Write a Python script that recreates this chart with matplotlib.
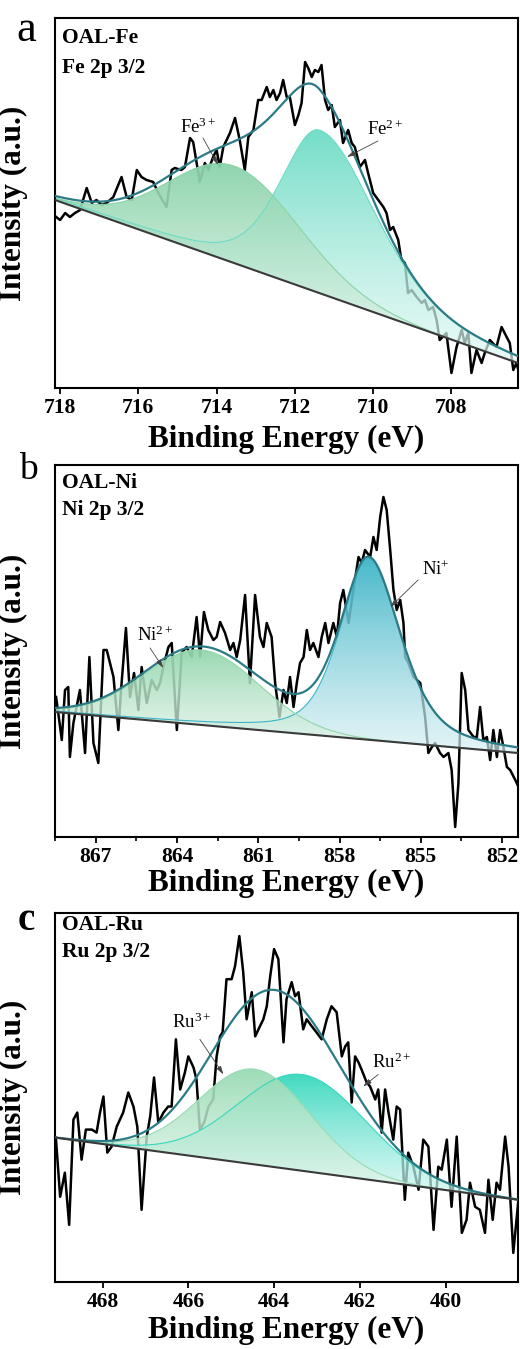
import numpy as np
import matplotlib.pyplot as plt
from matplotlib.colors import to_rgb

plt.rcParams['font.family'] = ['Liberation Serif', 'DejaVu Serif']
plt.rcParams['mathtext.fontset'] = 'custom'
plt.rcParams['mathtext.rm'] = 'Liberation Serif'
plt.rcParams['mathtext.it'] = 'Liberation Serif:italic'
plt.rcParams['mathtext.bf'] = 'Liberation Serif:bold'

# ---------------- panel a : Fe 2p 3/2 ----------------
fe_be = [718.10, 718.00, 717.87, 717.75, 717.62, 717.49, 717.32, 717.19, 717.07, 716.94,
         716.81, 716.64, 716.43, 716.30, 716.17, 716.04, 715.92, 715.79, 715.62, 715.49,
         715.28, 715.15, 715.07, 714.90, 714.81, 714.68, 714.60, 714.43, 714.30, 714.21,
         714.09, 714.00, 713.92, 713.83, 713.66, 713.53, 713.41, 713.28, 713.19, 713.06,
         712.94, 712.85, 712.72, 712.64, 712.55, 712.47, 712.38, 712.30, 712.21, 712.13,
         712.00, 711.91, 711.83, 711.74, 711.66, 711.57, 711.49, 711.40, 711.32, 711.23,
         711.15, 711.06, 710.98, 710.85, 710.77, 710.64, 710.55, 710.47, 710.34, 710.21,
         710.13, 710.00, 709.87, 709.74, 709.66, 709.57, 709.49, 709.36, 709.28, 709.19,
         709.11, 709.02, 708.89, 708.76, 708.68, 708.59, 708.47, 708.38, 708.30, 708.13,
         708.00, 707.87, 707.74, 707.66, 707.57, 707.49, 707.36, 707.23, 707.15, 707.02,
         706.85, 706.72, 706.59, 706.51, 706.42, 706.34, 706.27]
fe_int = [171, 168, 175, 171, 175, 178, 200, 185, 188, 183,
          185, 191, 211, 191, 188, 218, 211, 208, 206, 195,
          181, 218, 220, 218, 221, 250, 246, 206, 225, 218,
          231, 238, 221, 241, 255, 270, 248, 218, 251, 258,
          288, 288, 301, 291, 298, 288, 295, 308, 291, 291,
          263, 273, 285, 326, 320, 311, 318, 316, 323, 288,
          278, 283, 261, 268, 245, 258, 245, 241, 221, 228,
          215, 195, 188, 181, 175, 158, 161, 148, 128, 125,
          95, 98, 91, 85, 88, 78, 81, 68, 48, 55,
          15, 41, 58, 45, 55, 15, 38, 25, 35, 48,
          41, 61, 51, 45, 18, 25, 15]
fe_bg_be = [718.13, 706.30]
fe_bg_int = [188, 25]
fe_names = ['Fe$^{2+}$', 'Fe$^{3+}$']
fe_center = [711.36, 713.55]
fe_height = [163, 97]
fe_fwhm_hi = [2.4, 3.9]   # width on the high binding energy side
fe_fwhm_lo = [3.4, 3.9]   # width on the low binding energy side
fe_lor = [0.4, 0.0]
fe_colors = ['#6cdcc5', '#8ad3aa']
fe_ticks = [718, 716, 714, 712, 710, 708]

# ---------------- panel b : Ni 2p 3/2 ----------------
ni_be = [868.47, 868.39, 868.26, 868.14, 868.02, 867.96, 867.83, 867.59, 867.40, 867.24,
         867.09, 866.91, 866.72, 866.60, 866.35, 866.17, 866.05, 865.89, 865.74, 865.59,
         865.43, 865.31, 865.12, 864.94, 864.75, 864.63, 864.51, 864.32, 864.20, 864.01,
         863.83, 863.65, 863.46, 863.28, 863.15, 863.01, 862.85, 862.66, 862.54, 862.41,
         862.23, 862.04, 861.92, 861.80, 861.67, 861.49, 861.31, 861.12, 860.94, 860.81,
         860.69, 860.51, 860.38, 860.22, 860.07, 859.95, 859.83, 859.70, 859.58, 859.46,
         859.33, 859.21, 859.09, 858.97, 858.78, 858.66, 858.53, 858.41, 858.23, 858.10,
         857.98, 857.86, 857.67, 857.49, 857.30, 857.18, 857.06, 856.87, 856.75, 856.63,
         856.50, 856.38, 856.26, 856.13, 856.01, 855.89, 855.76, 855.64, 855.58, 855.46,
         855.27, 855.02, 854.84, 854.72, 854.59, 854.47, 854.29, 854.16, 853.98, 853.86,
         853.73, 853.61, 853.49, 853.36, 853.24, 853.05, 852.93, 852.81, 852.69, 852.56,
         852.44, 852.32, 852.19, 852.07, 851.95, 851.82, 851.70, 851.51, 851.39]
ni_int = [140, 124, 97, 147, 150, 80, 114, 147, 84, 180,
          94, 74, 187, 187, 160, 107, 154, 209, 140, 164,
          127, 170, 134, 157, 147, 154, 170, 190, 194, 107,
          184, 190, 180, 220, 180, 225, 207, 197, 200, 215,
          204, 187, 194, 180, 197, 242, 154, 242, 200, 190,
          214, 200, 154, 120, 147, 134, 160, 130, 154, 174,
          180, 207, 187, 194, 180, 200, 214, 194, 214, 200,
          234, 247, 214, 247, 280, 274, 287, 280, 300, 287,
          320, 340, 327, 287, 247, 227, 237, 214, 180, 174,
          160, 154, 120, 84, 90, 94, 84, 80, 84, 67,
          10, 54, 164, 147, 107, 100, 100, 130, 97, 100,
          77, 107, 80, 107, 90, 70, 67, 57, 50]
ni_bg_be = [868.51, 851.41]
ni_bg_int = [125, 84]
ni_names = ['Ni$^{+}$', 'Ni$^{2+}$']
ni_center = [856.93, 863.10]
ni_height = [182, 75]
ni_fwhm_hi = [2.5, 5.0]
ni_fwhm_lo = [2.8, 5.0]
ni_lor = [0.5, 0.0]
ni_colors = ['#3cb4c6', '#92d6ac']
ni_ticks = [867, 864, 861, 858, 855, 852]

# ---------------- panel c : Ru 2p 3/2 ----------------
ru_be = [469.09, 468.99, 468.88, 468.78, 468.68, 468.59, 468.49, 468.39, 468.25, 468.14,
         468.06, 467.98, 467.89, 467.79, 467.67, 467.52, 467.40, 467.28, 467.19, 467.09,
         466.97, 466.89, 466.80, 466.70, 466.58, 466.47, 466.39, 466.29, 466.19, 466.08,
         466.00, 465.88, 465.81, 465.73, 465.63, 465.53, 465.42, 465.34, 465.26, 465.20,
         465.11, 464.99, 464.91, 464.81, 464.72, 464.64, 464.52, 464.44, 464.33, 464.25,
         464.17, 464.09, 464.00, 463.90, 463.78, 463.71, 463.59, 463.51, 463.43, 463.32,
         463.24, 463.12, 463.01, 462.89, 462.77, 462.66, 462.54, 462.42, 462.34, 462.27,
         462.19, 462.11, 462.03, 461.96, 461.84, 461.76, 461.64, 461.57, 461.49, 461.41,
         461.33, 461.22, 461.14, 461.06, 460.95, 460.87, 460.75, 460.63, 460.52, 460.40,
         460.28, 460.17, 460.09, 459.97, 459.86, 459.74, 459.62, 459.51, 459.43, 459.31,
         459.20, 459.08, 459.00, 458.90, 458.81, 458.73, 458.61, 458.53, 458.42, 458.30]
ru_int = [144, 85, 109, 57, 162, 169, 122, 152, 152, 149,
          169, 185, 129, 135, 155, 169, 189, 175, 155, 72,
          145, 165, 204, 159, 169, 175, 175, 242, 192, 209,
          225, 214, 202, 152, 159, 175, 182, 225, 245, 249,
          302, 302, 315, 345, 309, 262, 289, 245, 255, 262,
          275, 305, 332, 322, 239, 282, 299, 285, 289, 252,
          262, 255, 249, 242, 262, 275, 269, 225, 235, 239,
          179, 225, 219, 212, 199, 195, 182, 192, 149, 192,
          169, 142, 175, 172, 82, 129, 115, 92, 142, 135,
          52, 115, 112, 142, 75, 145, 49, 62, 99, 75,
          72, 49, 102, 62, 99, 92, 145, 115, 29, 82]
ru_bg_be = [469.11, 458.31]
ru_bg_int = [144, 82]
ru_names = ['Ru$^{2+}$', 'Ru$^{3+}$']
ru_center = [463.35, 464.45]
ru_height = [96, 95]
ru_fwhm_hi = [3.5, 3.05]
ru_fwhm_lo = [3.5, 3.05]
ru_lor = [0.0, 0.0]
ru_colors = ['#36d8be', '#98dbb4']
ru_ticks = [468, 466, 464, 462, 460]

FIT = '#2b7b86'


def pvoigt(x, c, h, w_hi, w_lo, eta):
    # pseudo-Voigt with separate widths on each side of the centre
    w = np.where(x >= c, w_hi, w_lo)
    g = np.exp(-4 * np.log(2) * (x - c) ** 2 / w ** 2)
    l = 1 / (1 + 4 * (x - c) ** 2 / w ** 2)
    return h * ((1 - eta) * g + eta * l)


def grad_fill(ax, x, y0, y1, color):
    # vertical gradient (pale at bottom -> colour at top), clipped to the peak area
    poly = ax.fill_between(x, y0, y1, facecolor='none', edgecolor='none')
    path = poly.get_paths()[0]
    n = 256
    t = np.linspace(0, 1, n)
    rgb = np.array(to_rgb(color))
    img = np.zeros((n, 1, 4))
    for k in range(3):
        img[:, 0, k] = 1 - (1 - rgb[k]) * (0.2 + 0.8 * t)
    img[:, 0, 3] = 0.68 + 0.27 * t
    im = ax.imshow(img, extent=[x.min(), x.max(), y0.min(), y1.max()], origin='lower',
                   aspect='auto', zorder=2, interpolation='bilinear')
    im.set_clip_path(path, transform=ax.transData)
    ax.plot(x, y1, color=color, lw=0.8, zorder=2.5)


def draw_panel(ax, be, inten, bg_be, bg_int, centers, heights, w_hi, w_lo, lors, colors,
               ticks, xlim, ylim):
    ax.plot(be, inten, color='black', lw=1.8, zorder=1)
    x = np.linspace(xlim[1], xlim[0], 800)
    bg = np.interp(x, bg_be[::-1], bg_int[::-1])
    total = bg.copy()
    for c, h, wh, wl, eta, col in zip(centers, heights, w_hi, w_lo, lors, colors):
        comp = pvoigt(x, c, h, wh, wl, eta)
        grad_fill(ax, x, bg, bg + comp, col)
        total += comp
    ax.plot(x, total, color=FIT, lw=1.6, zorder=4)
    ax.plot(x, bg, color='#3a3a3a', lw=1.5, zorder=4)
    ax.set_xlim(xlim)
    ax.set_ylim(ylim)
    ax.set_xticks(ticks)
    ax.set_yticks([])
    for s in ax.spines.values():
        s.set_linewidth(1.5)
    ax.tick_params(axis='x', direction='out', length=4.5, width=1.3, pad=2.5,
                   labelsize=15.5, top=False)
    for lab in ax.get_xticklabels():
        lab.set_fontweight('bold')
    ax.set_xlabel('Binding Energy (eV)', fontsize=22.5, fontweight='bold')
    ax.set_ylabel('Intensity (a.u.)', fontsize=22.5, fontweight='bold')
    ax.yaxis.set_label_coords(-0.058, 0.5)


def label_peak(ax, text, pos, start, tip):
    ax.text(pos[0], pos[1], text, fontsize=13.5, ha='left', va='center', zorder=6)
    ax.annotate('', xy=tip, xytext=start, zorder=6,
                arrowprops=dict(arrowstyle='-|>,head_length=0.5,head_width=0.15',
                                color='#444444', lw=0.6, shrinkA=0, shrinkB=0))


fig = plt.figure(figsize=(5.2, 13.49), dpi=100)
W, H = 520, 1349


def add_axes(top, bottom):
    return fig.add_axes([55 / W, 1 - bottom / H, 463 / W, (bottom - top) / H])


ax_a = add_axes(18, 388)
ax_b = add_axes(465, 837)
ax_c = add_axes(913, 1282)

draw_panel(ax_a, fe_be, fe_int, fe_bg_be, fe_bg_int, fe_center, fe_height, fe_fwhm_hi,
           fe_fwhm_lo, fe_lor, fe_colors, fe_ticks, (718.13, 706.30), (0, 370))
draw_panel(ax_b, ni_be, ni_int, ni_bg_be, ni_bg_int, ni_center, ni_height, ni_fwhm_hi,
           ni_fwhm_lo, ni_lor, ni_colors, ni_ticks, (868.51, 851.41), (0, 372))
draw_panel(ax_c, ru_be, ru_int, ru_bg_be, ru_bg_int, ru_center, ru_height, ru_fwhm_hi,
           ru_fwhm_lo, ru_lor, ru_colors, ru_ticks, (469.11, 458.31), (0, 368))

ax_b.set_xticks(np.arange(852, 869, 1.5), minor=True)
ax_b.tick_params(axis='x', which='minor', direction='out', length=3, width=1.2)

ax_a.xaxis.set_label_coords(0.5, -0.14)
ax_b.xaxis.set_label_coords(0.5, -0.126)
ax_c.xaxis.set_label_coords(0.5, -0.13)
for ax in (ax_a, ax_b, ax_c):
    ax.xaxis.label.set_verticalalignment('center')

# sample names
name_kw = dict(fontsize=15.5, fontweight='bold', va='center')
ax_a.text(0.015, 0.945, 'OAL-Fe', transform=ax_a.transAxes, **name_kw)
ax_a.text(0.015, 0.866, 'Fe 2p 3/2', transform=ax_a.transAxes, **name_kw)
ax_b.text(0.015, 0.952, 'OAL-Ni', transform=ax_b.transAxes, **name_kw)
ax_b.text(0.015, 0.880, 'Ni 2p 3/2', transform=ax_b.transAxes, **name_kw)
ax_c.text(0.015, 0.967, 'OAL-Ru', transform=ax_c.transAxes, **name_kw)
ax_c.text(0.015, 0.895, 'Ru 2p 3/2', transform=ax_c.transAxes, **name_kw)

# peak labels
label_peak(ax_a, fe_names[1], (714.94, 261), (714.35, 250), (713.96, 223))
label_peak(ax_a, fe_names[0], (710.16, 259), (709.88, 247), (710.67, 231))
label_peak(ax_b, ni_names[1], (865.48, 202), (865.00, 189), (864.51, 169))
label_peak(ax_b, ni_names[0], (854.96, 267), (855.10, 257), (856.13, 230))
label_peak(ax_c, ru_names[1], (466.39, 259), (465.73, 242), (465.18, 207))
label_peak(ax_c, ru_names[0], (461.72, 219), (461.57, 207), (461.92, 195))

# panel letters
fig.text(26.5 / W, 1 - 30 / H, 'a', fontsize=32, ha='center', va='center')
fig.text(28.5 / W, 1 - 470 / H, 'b', fontsize=27, ha='center', va='center')
fig.text(26 / W, 1 - 921 / H, 'c', fontsize=28, fontweight='bold', ha='center', va='center')

fig.savefig('out.png', dpi=100)
